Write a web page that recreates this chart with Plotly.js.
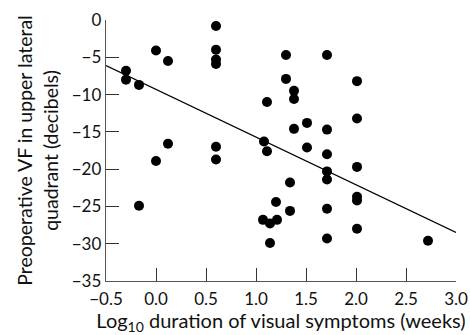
<!DOCTYPE html>
<html>
<head>
<meta charset="utf-8">
<script src="https://cdn.plot.ly/plotly-3.0.1.min.js"></script>
<style>html,body{margin:0;padding:0;background:#fff;}#chart{width:470px;height:335px;}</style>
</head>
<body>
<div id="chart"></div>
<script>
// Log10 duration of visual symptoms (weeks)
var durationLog = [-0.30,-0.30,-0.17,-0.17,0.00,0.00,0.12,0.12,0.60,0.60,0.60,0.60,0.60,0.60,
  1.11,1.08,1.11,1.30,1.71,1.30,1.38,1.38,1.38,1.51,1.71,1.51,1.71,1.71,1.71,1.34,1.20,1.34,
  1.07,1.14,1.21,1.14,1.71,1.71,2.01,2.01,2.01,2.01,2.01,2.01,2.72];
// Preoperative VF in upper lateral quadrant (decibels)
var vfDecibels = [-6.8,-8.0,-8.7,-24.9,-4.1,-18.9,-5.5,-16.6,-0.8,-4.0,-5.3,-5.9,-17.0,-18.7,
  -11.0,-16.3,-17.6,-4.7,-4.7,-7.9,-9.5,-10.6,-14.6,-13.8,-14.7,-17.1,-18.0,-20.3,-21.4,-21.8,-24.4,-25.6,
  -26.8,-27.3,-26.8,-29.9,-25.3,-29.3,-8.2,-13.2,-19.7,-23.7,-24.2,-28.0,-29.6];
// Regression line end points
var fitX = [-0.5, 3.0];
var fitY = [-6.1, -28.5];
var xTicks = [-0.5, 0.0, 0.5, 1.0, 1.5, 2.0, 2.5, 3.0];
var yTicks = [0, -5, -10, -15, -20, -25, -30, -35];

var font = 'Lato, "Open Sans", sans-serif';
var traces = [
  {x: fitX, y: fitY, mode: 'lines', type: 'scatter', line: {color: '#000', width: 1.3}, hoverinfo: 'skip'},
  {x: durationLog, y: vfDecibels, mode: 'markers', type: 'scatter', marker: {color: '#000', size: 10}}
];
var layout = {
  width: 470, height: 335,
  margin: {l: 106, r: 14, t: 20, b: 54},
  paper_bgcolor: '#fff', plot_bgcolor: '#fff',
  showlegend: false,
  font: {family: font, color: '#111', size: 17},
  xaxis: {
    range: [-0.5, 3.0], tickvals: xTicks, tickformat: '.1f',
    ticks: 'inside', ticklen: 13, tickcolor: '#333', tickwidth: 1,
    showline: true, linecolor: '#555', linewidth: 1.3, showgrid: false, zeroline: false,
    tickfont: {size: 17}, ticklabelstandoff: 2,
    title: {text: 'Log<sub>10</sub> duration of visual symptoms (weeks)', font: {size: 20}, standoff: 3},
    automargin: false
  },
  yaxis: {
    range: [-35, 0], tickvals: yTicks,
    ticks: 'inside', ticklen: 13, tickcolor: '#333', tickwidth: 1,
    showline: true, linecolor: '#555', linewidth: 1.3, showgrid: false, zeroline: false,
    tickfont: {size: 17},
    title: {text: 'Preoperative VF in upper lateral<br>quadrant (decibels)', font: {size: 19.5}, standoff: 8},
    automargin: false
  }
};
Plotly.newPlot('chart', traces, layout, {staticPlot: true, displayModeBar: false});
</script>
</body>
</html>
